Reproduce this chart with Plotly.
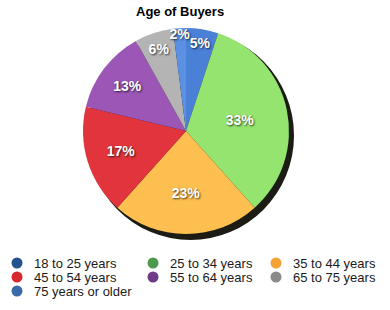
import plotly.graph_objects as go

# Age groups of buyers and their share (%)
categories = ["18 to 25 years", "25 to 34 years", "35 to 44 years",
              "45 to 54 years", "55 to 64 years", "65 to 75 years",
              "75 years or older"]
shares = [5, 33, 23, 17, 13, 6, 2]

# slice fill colours and darker legend dot colours
slice_colors = ["#4b80d7", "#95e46f", "#fdc050", "#e1343c", "#9b56b6", "#b4b4b4", "#5c90e2"]
legend_colors = ["#22538f", "#4e9a4c", "#f5a235", "#d9272f", "#703a87", "#8a8a8a", "#3a6aa8"]

title = "Age of Buyers"

W, H = 390, 310
FONT = "Liberation Sans, Arial, Helvetica, sans-serif"


def px(x):
    return x / W


def py(y):
    return 1 - y / H


cx, cy, r = 186, 131, 103

fig = go.Figure()
fig.add_trace(go.Pie(
    labels=categories,
    values=shares,
    sort=False,
    direction="clockwise",
    rotation=0,
    marker=dict(colors=slice_colors, line=dict(width=0)),
    texttemplate="%{value}%",
    textposition="inside",
    insidetextorientation="horizontal",
    textfont=dict(family=FONT, size=14, color="white", weight="bold",
                  shadow="1px 1px 2px rgba(0,0,0,0.7)"),
    hoverinfo="label+percent",
    showlegend=False,
    domain=dict(x=[px(cx - r), px(cx + r)], y=[py(cy + r), py(cy - r)]),
))

shapes = [
    # dark rim giving the disc some depth
    dict(type="circle", xref="paper", yref="paper", layer="below",
         x0=px(cx - r + 4), x1=px(cx + r + 5), y0=py(cy + r + 6), y1=py(cy - r + 3),
         fillcolor="#1c1c14", line=dict(width=0)),
]
annotations = [
    dict(text="<b>" + title + "</b>", x=px(180), y=py(11), xref="paper", yref="paper",
         showarrow=False, xanchor="center", yanchor="middle",
         font=dict(family=FONT, size=13, color="black")),
]

# three-column legend below the pie
col_x = [17, 153, 276]
row_y = [263, 277, 291]
for i, (name, col) in enumerate(zip(categories, legend_colors)):
    mx, my = col_x[i % 3], row_y[i // 3]
    shapes.append(dict(type="circle", xref="paper", yref="paper",
                       x0=px(mx - 5.5), x1=px(mx + 5.5), y0=py(my + 5.5), y1=py(my - 5.5),
                       fillcolor=col, line=dict(width=0)))
    annotations.append(dict(text=name, x=px(mx + 15), y=py(my), xref="paper", yref="paper",
                            showarrow=False, xanchor="left", yanchor="middle",
                            font=dict(family=FONT, size=13, color="#1a1a1a")))

fig.update_layout(
    width=W, height=H,
    margin=dict(l=0, r=0, t=0, b=0),
    paper_bgcolor="white",
    plot_bgcolor="white",
    shapes=shapes,
    annotations=annotations,
    uniformtext=dict(minsize=14, mode="show"),
)

fig.write_html("out.html")
